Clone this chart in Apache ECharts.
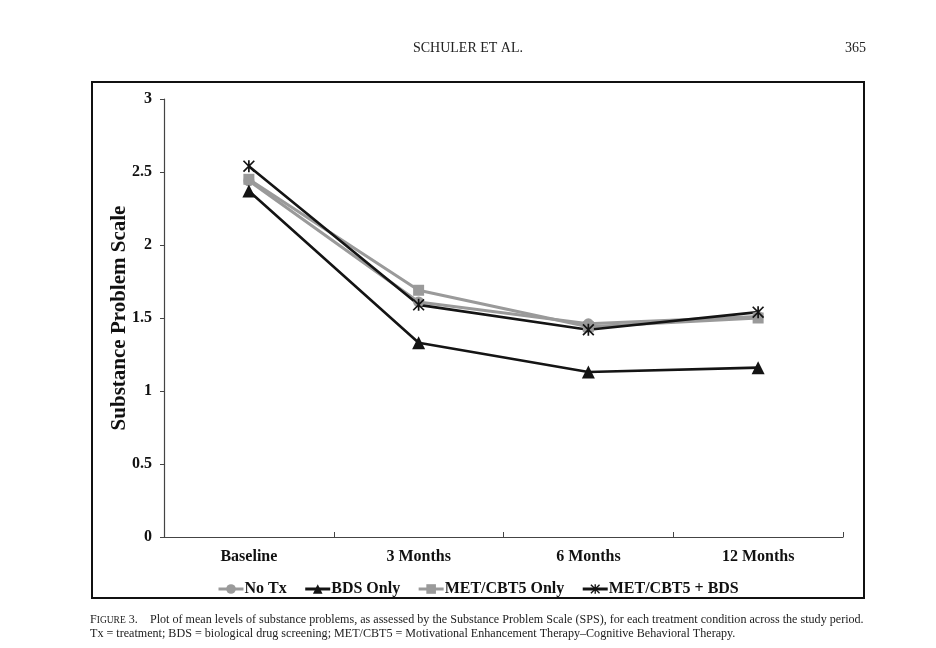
<!DOCTYPE html>
<html>
<head>
<meta charset="utf-8">
<script src="https://cdn.jsdelivr.net/npm/echarts@6/dist/echarts.min.js"></script>
<style>
html,body{margin:0;padding:0;background:#fff;}
#c{width:936px;height:648px;}
</style>
</head>
<body>
<div id="c"></div>
<script>
const categories = ['Baseline', '3 Months', '6 Months', '12 Months'];
const noTx = [2.44, 1.61, 1.46, 1.51];
const bdsOnly = [2.37, 1.33, 1.13, 1.16];
const metOnly = [2.45, 1.69, 1.44, 1.50];
const metBds = [2.54, 1.59, 1.42, 1.54];
const yTicks = [0, 0.5, 1, 1.5, 2, 2.5, 3];

const SERIF = '"Liberation Serif", "Times New Roman", serif';
const GRAY = '#9a9a9a';
const BLACK = '#141414';
const ASTER = 'path://M8.6,0L11.4,0L11.4,20L8.6,20Z M0,2L2,0L20,18L18,20Z M18,0L20,2L2,20L0,18Z';

const chart = echarts.init(document.getElementById('c'));

function mk(name, data, color, symbol, size, width) {
  return {
    name: name, type: 'line', data: data,
    symbol: symbol, symbolSize: size,
    lineStyle: { color: color, width: width },
    itemStyle: { color: color },
    emphasis: { disabled: true },
    animation: false
  };
}

chart.setOption({
  animation: false,
  backgroundColor: '#fff',
  grid: { left: 164, right: 93, top: 99, bottom: 111, containLabel: false },
  legend: {
    left: 212, top: 576,
    itemWidth: 25, itemHeight: 12, itemGap: 17,
    lineStyle: { width: 3 },
    textStyle: { fontFamily: SERIF, fontWeight: 'bold', fontSize: 16, color: '#111', padding: [0, 0, 0, -4] },
    data: ['No Tx', 'BDS Only', 'MET/CBT5 Only', 'MET/CBT5 + BDS']
  },
  xAxis: {
    type: 'category', data: categories, boundaryGap: true,
    axisLine: { lineStyle: { color: '#444', width: 1.2 } },
    axisTick: { show: true, inside: true, length: 5, alignWithLabel: false, lineStyle: { color: '#444' } },
    axisLabel: { margin: 12, fontFamily: SERIF, fontWeight: 'bold', fontSize: 16, color: '#111' },
    splitLine: { show: false }
  },
  yAxis: {
    type: 'value', min: yTicks[0], max: yTicks[yTicks.length - 1], interval: 0.5,
    name: 'Substance Problem Scale', nameLocation: 'middle', nameGap: 34, nameMoveOverlap: false,
    nameTextStyle: { fontFamily: SERIF, fontWeight: 'bold', fontSize: 21, color: '#111' },
    axisLine: { show: true, lineStyle: { color: '#444', width: 1.2 } },
    axisTick: { show: true, inside: false, length: 4, lineStyle: { color: '#444' } },
    axisLabel: { margin: 12, fontFamily: SERIF, fontWeight: 'bold', fontSize: 16, color: '#111' },
    splitLine: { show: false }
  },
  series: [
    mk('No Tx', noTx, GRAY, 'circle', 11, 3),
    mk('BDS Only', bdsOnly, BLACK, 'triangle', 13, 2.6),
    mk('MET/CBT5 Only', metOnly, GRAY, 'rect', 11, 3),
    mk('MET/CBT5 + BDS', metBds, BLACK, ASTER, 12, 2.6)
  ],
  graphic: [
    { type: 'rect', shape: { x: 92, y: 82, width: 772, height: 516 },
      style: { fill: 'none', stroke: '#111', lineWidth: 2 }, silent: true },
    { type: 'text', x: 468, y: 48,
      style: { text: 'SCHULER ET AL.', font: '14px ' + SERIF, fill: '#222', align: 'center', verticalAlign: 'middle' } },
    { type: 'text', x: 866, y: 48,
      style: { text: '365', font: '14px ' + SERIF, fill: '#222', align: 'right', verticalAlign: 'middle' } },
    { type: 'text', x: 90, y: 620,
      style: {
        text: '{a|F}{b|IGURE} {a|3.}    Plot of mean levels of substance problems, as assessed by the Substance Problem Scale (SPS), for each treatment condition across the study period.',
        font: '12.1px ' + SERIF, fill: '#222', verticalAlign: 'middle',
        rich: { a: { fontSize: 12.1, fontFamily: SERIF, fill: '#222' }, b: { fontSize: 9.5, fontFamily: SERIF, fill: '#222' } }
      } },
    { type: 'text', x: 90, y: 634,
      style: {
        text: 'Tx = treatment; BDS = biological drug screening; MET/CBT5 = Motivational Enhancement Therapy\u2013Cognitive Behavioral Therapy.',
        font: '12.1px ' + SERIF, fill: '#222', verticalAlign: 'middle'
      } }
  ]
});
</script>
</body>
</html>
